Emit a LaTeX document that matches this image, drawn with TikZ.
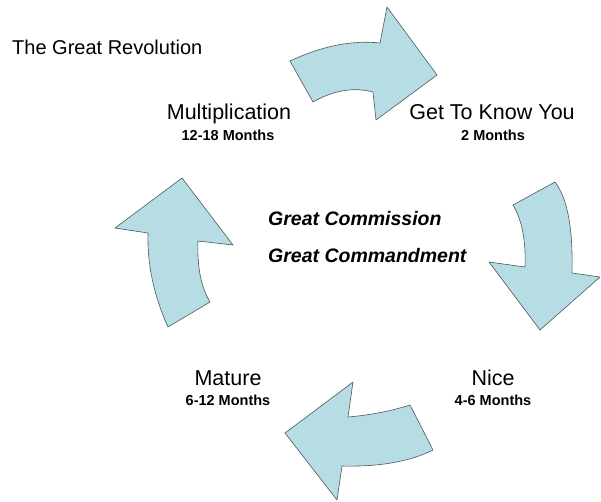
\documentclass[tikz,border=0pt]{standalone}
\usepackage{fontspec}
\setmainfont{Liberation Sans}
\usepackage{xcolor}
\usepackage{tikz}
\definecolor{turnfill}{RGB}{183,221,228}
\definecolor{turnedge}{RGB}{75,88,92}

\begin{document}
\begin{tikzpicture}[x=1pt,y=-1pt,
  turn/.style={fill=turnfill,draw=turnedge,line width=0.6pt,line join=round},
  stage/.style={anchor=base,inner sep=0pt,font=\fontsize{21.5}{24}\selectfont},
  span/.style={anchor=base,inner sep=0pt,font=\bfseries\fontsize{14.5}{18}\selectfont},
  motto/.style={anchor=base west,inner sep=0pt,font=\bfseries\itshape\fontsize{19.5}{23}\selectfont}]
  \useasboundingbox (0,0) rectangle (601,501);
  \fill[white] (0,0) rectangle (601,501);
  \draw[turn] (290,61) .. controls (322,46) and (352,40) .. (380,43) -- (387,7) -- (437,75) -- (376,120) -- (373,92) .. controls (354,87) and (334,90) .. (313,102) -- cycle;
  \draw[turn] (555,182) .. controls (568,199) and (573,230) .. (572,273) -- (600,277) -- (540,330) -- (489,262) -- (525,267) .. controls (526,241) and (522,220) .. (513,205) -- cycle;
  \draw[turn] (433,450) .. controls (411,461) and (381,467) .. (342,466) -- (337,500) -- (285,433) -- (353,382) -- (348,417) .. controls (371,415) and (391,411) .. (410,405) -- cycle;
  \draw[turn] (168,327) .. controls (154,296) and (147,264) .. (148,233) -- (115,228) -- (182,178) -- (233,245) -- (198,241) .. controls (197,267) and (201,287) .. (210,302) -- cycle;
  \node[anchor=base west,inner sep=0pt,font=\fontsize{20}{24}\selectfont] (title) at (12,54) {The Great Revolution};
  \node[stage] (mult) at (229,119) {Multiplication};
  \node[span] (multtime) at (228,140) {12-18 Months};
  \node[stage] (know) at (492,119) {Get To Know You};
  \node[span] (knowtime) at (493,140) {2 Months};
  \node[motto] (commission) at (268,225) {Great Commission};
  \node[motto] (commandment) at (268,262) {Great Commandment};
  \node[stage] (nice) at (493,385) {Nice};
  \node[span] (nicetime) at (493,405) {4-6 Months};
  \node[stage] (mature) at (228,385) {Mature};
  \node[span] (maturetime) at (228,405) {6-12 Months};
\end{tikzpicture}
\end{document}
